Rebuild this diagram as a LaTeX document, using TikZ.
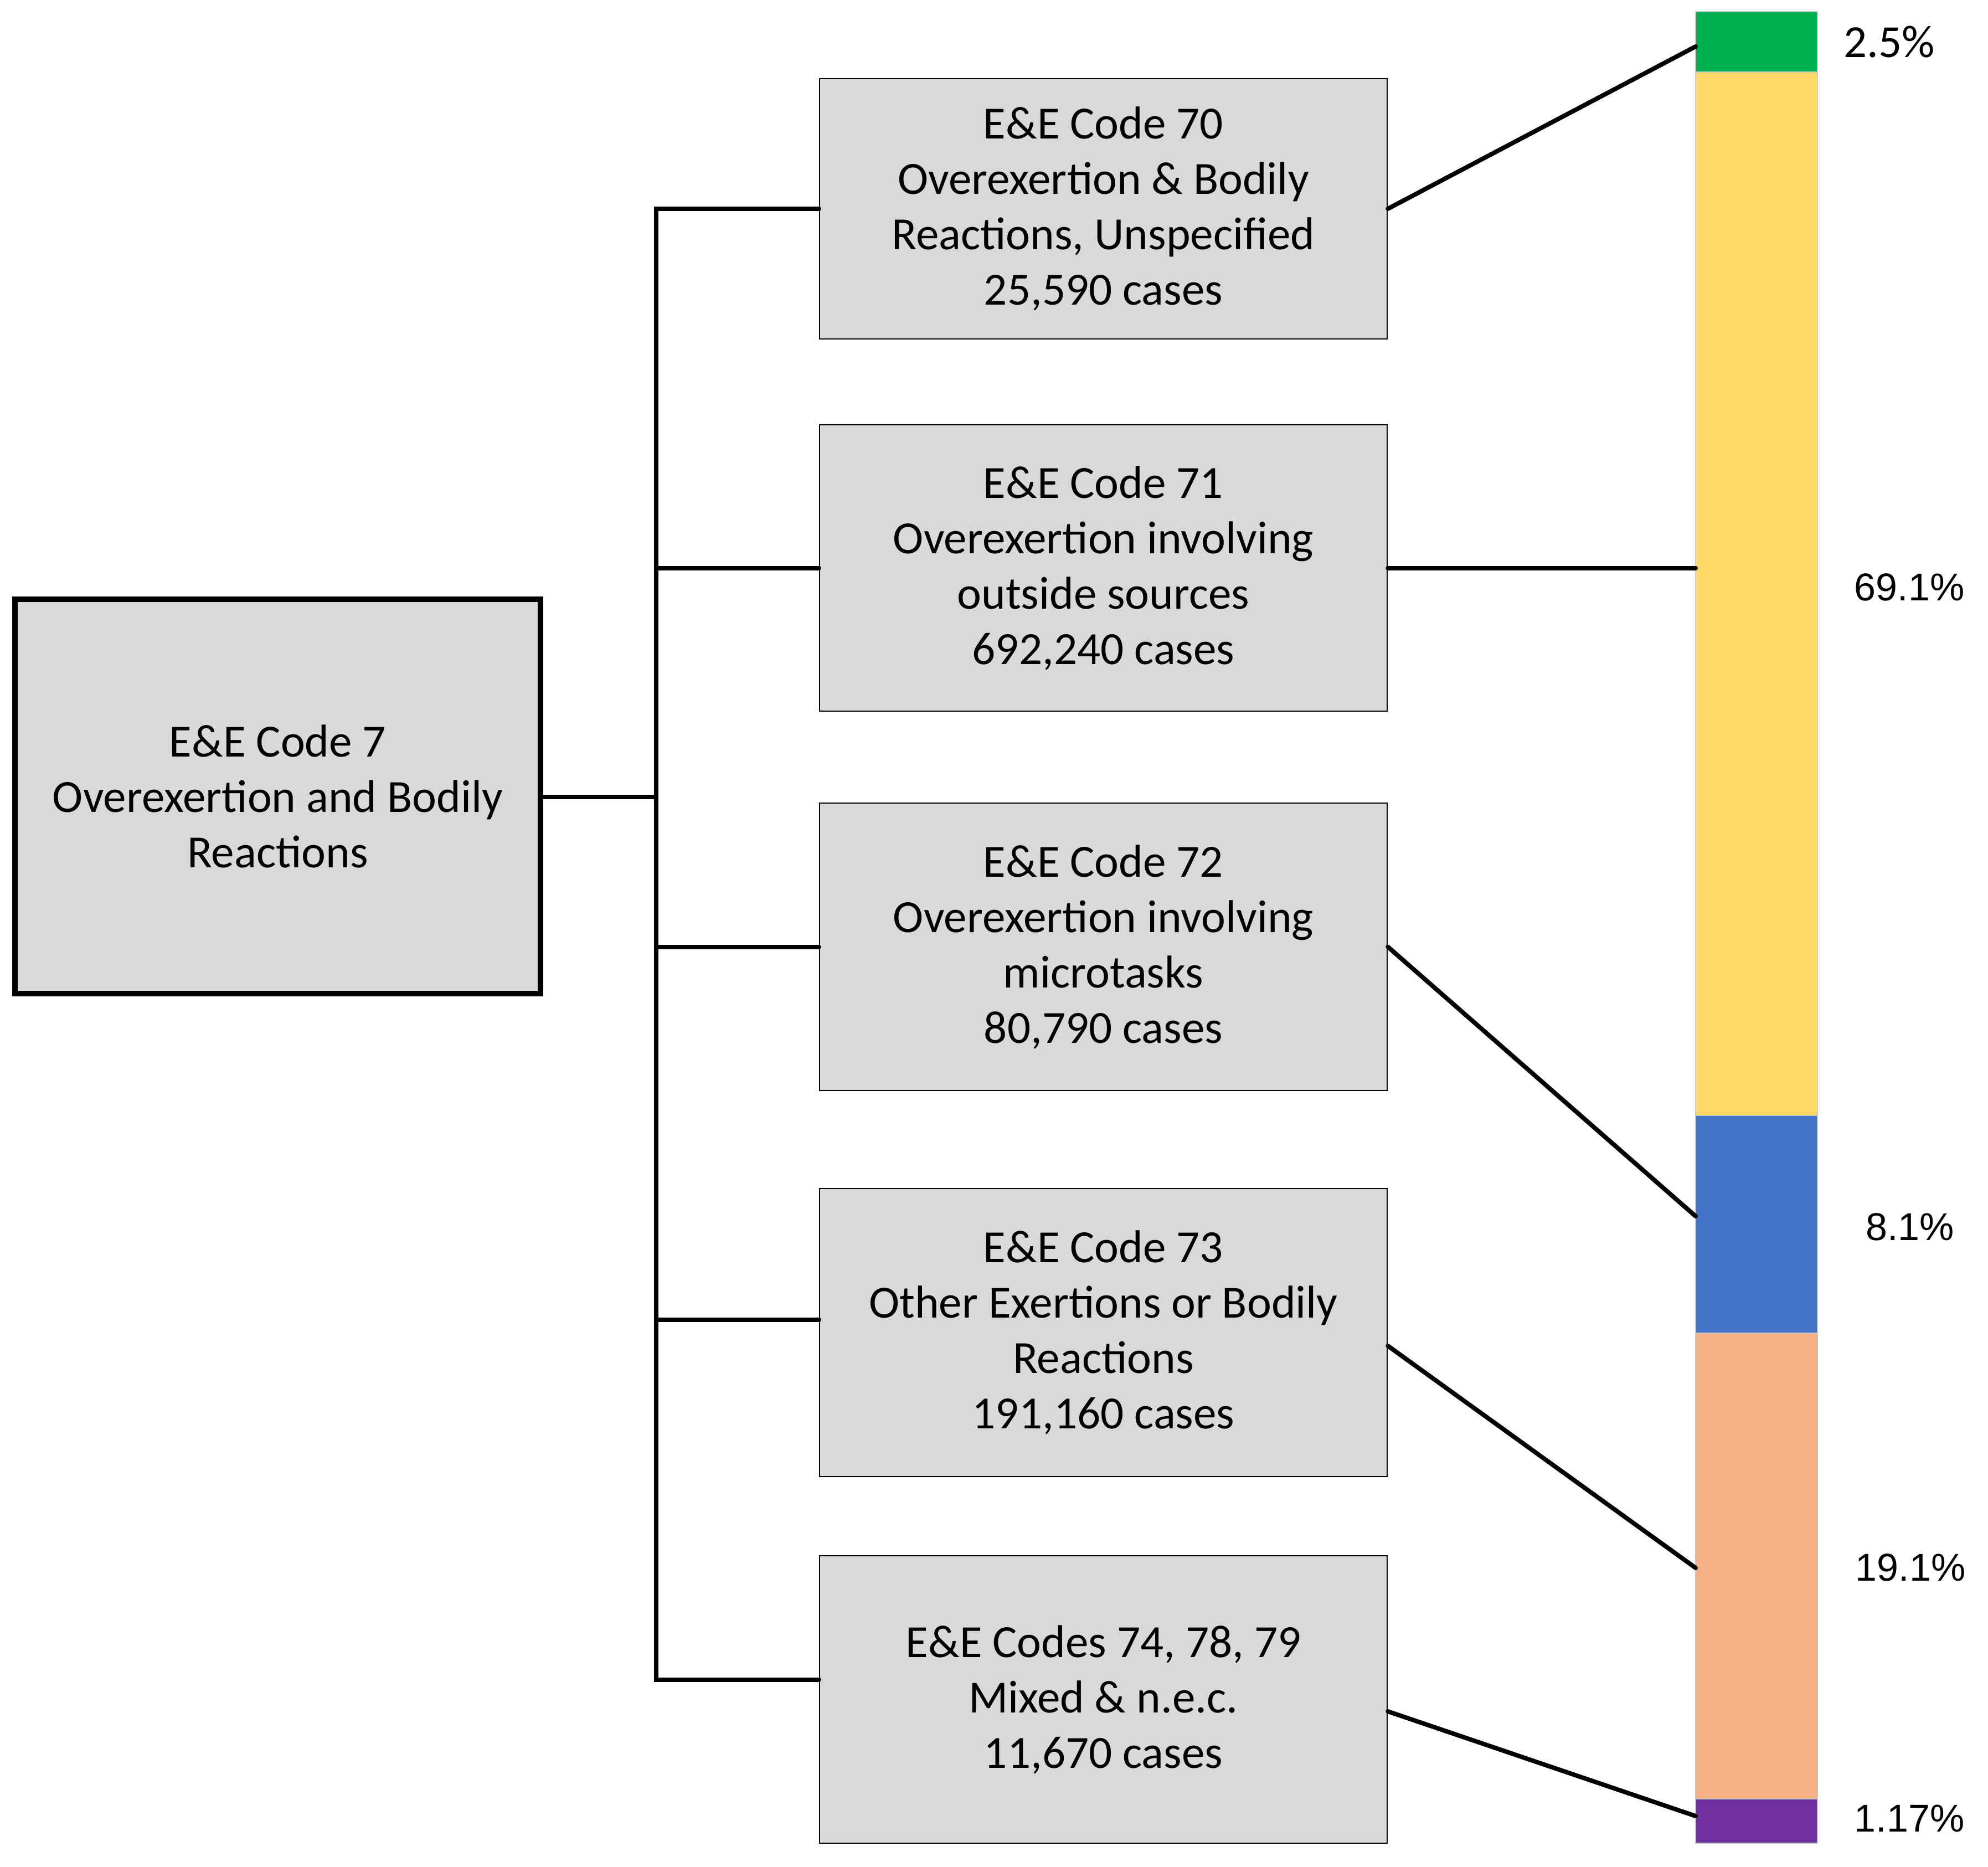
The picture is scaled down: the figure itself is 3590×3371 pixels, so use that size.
\documentclass[tikz,border=0pt]{standalone}
\usepackage{fontspec}
\setmainfont{Carlito}
\newfontfamily\pctfont{Liberation Sans}
\usetikzlibrary{calc}
\definecolor{boxgray}{HTML}{D9D9D9}
\definecolor{segGreen}{HTML}{00B050}
\definecolor{segYellow}{HTML}{FFD966}
\definecolor{segBlue}{HTML}{4472C4}
\definecolor{segOrange}{HTML}{F4B183}
\definecolor{segPurple}{HTML}{7030A0}
\definecolor{barline}{HTML}{C9C9C9}
\begin{document}
\begin{tikzpicture}[x=0.25pt,y=-0.25pt,
  rootbox/.style={draw, line width=2.5pt, fill=boxgray, minimum width=237.25pt, minimum height=178pt, inner sep=0pt, align=center, font=\fontsize{20.8}{25}\selectfont},
  childbox/.style={draw, line width=0.6pt, fill=boxgray, minimum width=256.25pt, inner sep=0pt, align=center, font=\fontsize{20.8}{25}\selectfont},
  seg/.style={draw=barline, line width=0.5pt, minimum width=55pt, inner sep=0pt, outer sep=0pt},
  conn/.style={line width=2pt, line cap=round},
  pct/.style={font=\pctfont\fontsize{17.5}{21}\selectfont, inner sep=0pt},
  pcttop/.style={font=\fontsize{20.75}{24}\selectfont, inner sep=0pt}]
\useasboundingbox (0,0) rectangle (3590,3371);

% root
\node[rootbox] (root) at (501.5,1438) {E\&E Code 7\\Overexertion and Bodily\\Reactions};

% children
\node[childbox, minimum height=117.5pt] (b70) at (1992.5,377) {E\&E Code 70\\Overexertion \& Bodily\\Reactions, Unspecified\\25,590 cases};
\node[childbox, minimum height=129.25pt] (b71) at (1992.5,1025.5) {E\&E Code 71\\Overexertion involving\\outside sources\\692,240 cases};
\node[childbox, minimum height=129.75pt] (b72) at (1992.5,1709.5) {E\&E Code 72\\Overexertion involving\\microtasks\\80,790 cases};
\node[childbox, minimum height=130pt] (b73) at (1992.5,2406) {E\&E Code 73\\Other Exertions or Bodily\\Reactions\\191,160 cases};
\node[childbox, minimum height=129.75pt] (b74) at (1992.5,3068.5) {E\&E Codes 74, 78, 79\\Mixed \& n.e.c.\\11,670 cases};

% spine
\coordinate (sp70) at (1185,377);
\coordinate (sp71) at (1185,1025.5);
\coordinate (sp72) at (1185,1709.5);
\coordinate (sp73) at (1185,2383);
\coordinate (sp74) at (1185,3032.5);
\coordinate (spR) at (1185,1439);
\draw[line width=2pt] ($(sp70)+(0,-4)$) -- ($(sp74)+(0,4)$);
\draw[conn] (root.east |- spR) -- (spR);
\foreach \b in {70,71,72,73,74}{
  \draw[conn] (sp\b) -- (b\b.west |- sp\b);
}

% bar
\node[seg, fill=segGreen, minimum height=27.25pt] (green) at (3172,75.5) {};
\node[seg, fill=segYellow, minimum height=471pt] (yellow) at (3172,1072) {};
\node[seg, fill=segBlue, minimum height=98.25pt] (blue) at (3172,2210.5) {};
\node[seg, fill=segOrange, minimum height=210.25pt] (orange) at (3172,2827.5) {};
\node[seg, fill=segPurple, minimum height=20pt] (purple) at (3172,3288) {};

% connectors to bar
\draw[conn] (b70.east) -- ($(green.west)+(0,8.5)$);
\draw[conn] (b71.east) -- (yellow.west |- b71.east);
\draw[conn] (b72.east) -- ($(blue.west)+(0,-14.5)$);
\draw[conn] ($(b73.east)+(0,24)$) -- ($(orange.west)+(0,3.5)$);
\draw[conn] ($(b74.east)+(0,21.5)$) -- ($(purple.west)+(0,-9)$);

% percentages
\node[pcttop] (p70) at (3412,76) {2.5\%};
\node[pct] (p71) at (3448,1060) {69.1\%};
\node[pct] (p72) at (3449,2215) {8.1\%};
\node[pct] (p73) at (3450,2830) {19.1\%};
\node[pct] (p74) at (3448,3283) {1.17\%};
\end{tikzpicture}
\end{document}
